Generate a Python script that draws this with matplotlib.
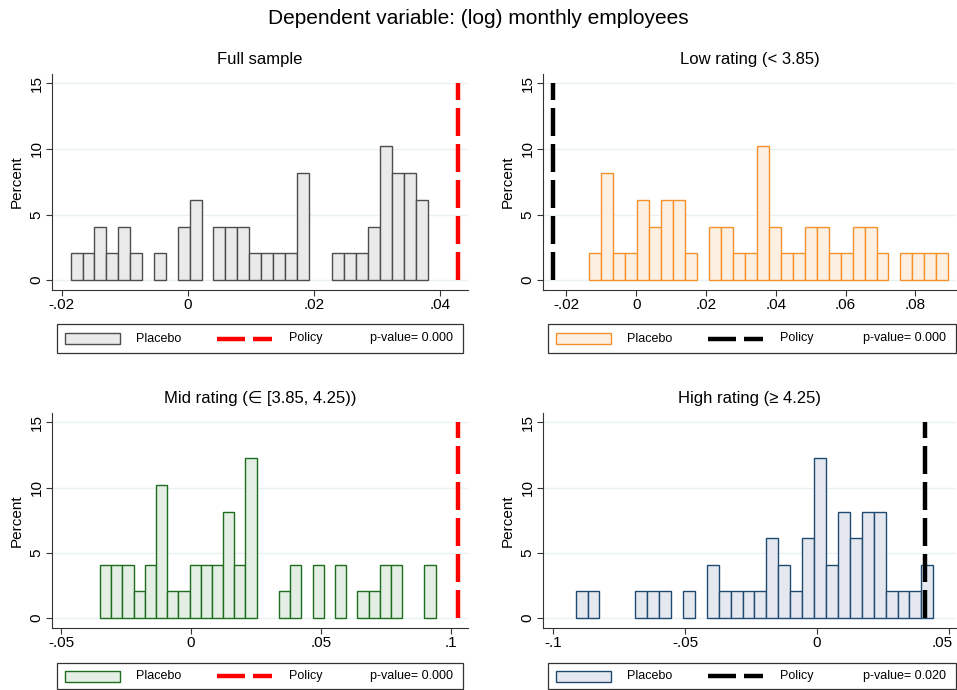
import matplotlib
matplotlib.use("Agg")
import matplotlib.pyplot as plt
import matplotlib.transforms as mtransforms
import numpy as np
from matplotlib.patches import Rectangle
from matplotlib.lines import Line2D

plt.rcParams['font.family'] = ['Liberation Sans', 'DejaVu Sans']

# ---------------- data ----------------
main_title = "Dependent variable: (log) monthly employees"
panel_titles = ["Full sample", "Low rating (< 3.85)",
                "Mid rating (\u2208 [3.85, 4.25))", "High rating (\u2265 4.25)"]

# histogram bin range (first left edge, last right edge), 30 bins each
full_range = (-0.018555, 0.03806)
low_range = (-0.013454, 0.08941)
mid_range = (-0.03503, 0.09419)
high_range = (-0.09149, 0.04423)

# bar heights (percent)
full_pct = [2.04, 2.04, 4.08, 2.04, 4.08, 2.04, 0, 2.04, 0, 4.08,
            6.12, 0, 4.08, 4.08, 4.08, 2.04, 2.04, 2.04, 2.04, 8.16,
            0, 0, 2.04, 2.04, 2.04, 4.08, 10.20, 8.16, 8.16, 6.12]
low_pct = [2.04, 8.16, 2.04, 2.04, 6.12, 4.08, 6.12, 6.12, 2.04, 0,
           4.08, 4.08, 2.04, 2.04, 10.20, 4.08, 2.04, 2.04, 4.08, 4.08,
           2.04, 2.04, 4.08, 4.08, 2.04, 0, 2.04, 2.04, 2.04, 2.04]
mid_pct = [4.08, 4.08, 4.08, 2.04, 4.08, 10.20, 2.04, 2.04, 4.08, 4.08,
           4.08, 8.16, 4.08, 12.24, 0, 0, 2.04, 4.08, 0, 4.08,
           0, 4.08, 0, 2.04, 2.04, 4.08, 4.08, 0, 0, 4.08]
high_pct = [2.04, 2.04, 0, 0, 0, 2.04, 2.04, 2.04, 0, 2.04,
            0, 4.08, 2.04, 2.04, 2.04, 2.04, 6.12, 4.08, 2.04, 6.12,
            12.24, 4.08, 8.16, 6.12, 8.16, 8.16, 2.04, 2.04, 2.04, 4.08]

policy_values = [0.04287, -0.02395, 0.10266, 0.04107]
p_values = ["0.000", "0.000", "0.000", "0.020"]

x_ticks = [[-0.02, 0, 0.02, 0.04],
           [-0.02, 0, 0.02, 0.04, 0.06, 0.08],
           [-0.05, 0, 0.05, 0.1],
           [-0.1, -0.05, 0, 0.05]]
x_limits = [(-0.02151, 0.04445), (-0.02671, 0.09161),
            (-0.05351, 0.10663), (-0.10387, 0.05283)]
y_ticks = [0, 5, 10, 15]

# ---------------- styles ----------------
fills = ["#eaeaea", "#fdf0e2", "#e5eee5", "#e5e9ef"]
edges = ["#4d4d4d", "#f5912a", "#1c6e1c", "#1f4a73"]
policy_colors = ["#ff0000", "black", "#ff0000", "black"]
grid_color = "#eaf1f2"

W, H = 957, 690
fig = plt.figure(figsize=(W / 100, H / 100), dpi=100)


def rect(l, t, r, b):
    return [l / W, 1 - b / H, (r - l) / W, (b - t) / H]


def fmt(v):
    if v == 0:
        return "0"
    s = f"{v:g}"
    return s.replace("0.", ".")


axes_rects = [rect(52, 74, 468, 290), rect(543, 74, 956, 290),
              rect(52, 413, 468, 628), rect(543, 413, 956, 628)]
ranges = [full_range, low_range, mid_range, high_range]
heights = [full_pct, low_pct, mid_pct, high_pct]

DASH = (6.3, 1.8)
LW = 3.2

for i in range(4):
    ax = fig.add_axes(axes_rects[i])
    lo, hi = ranges[i]
    h = np.array(heights[i])
    n = len(h)
    w = (hi - lo) / n
    left = lo + w * np.arange(n)
    m = h > 0
    ax.bar(left[m], h[m], width=w, align='edge', color=fills[i],
           edgecolor=edges[i], linewidth=1.0, zorder=2)
    ax.plot([policy_values[i], policy_values[i]], [0, 15],
            color=policy_colors[i], linewidth=LW, dashes=DASH,
            solid_capstyle='butt', dash_capstyle='butt', zorder=3)
    ax.set_xlim(*x_limits[i])
    ax.set_ylim(-0.76, 15.72)
    ax.set_yticks(y_ticks)
    ax.set_yticklabels([str(t) for t in y_ticks], rotation=90, va='center')
    ax.set_xticks(x_ticks[i])
    ax.set_xticklabels([fmt(t) for t in x_ticks[i]])
    ax.tick_params(axis='both', labelsize=11, length=4, width=0.8,
                   color='#333333', pad=2)
    ax.grid(axis='y', color=grid_color, linewidth=1.0, zorder=0)
    ax.set_axisbelow(True)
    for s in ['top', 'right']:
        ax.spines[s].set_visible(False)
    for s in ['left', 'bottom']:
        ax.spines[s].set_color('#333333')
        ax.spines[s].set_linewidth(0.8)
    ax.set_ylabel("Percent", fontsize=11, labelpad=4)
    ax.set_title(panel_titles[i], fontsize=12, pad=7)
    if i == 3:
        # keep the last tick label inside the figure edge
        lab = ax.get_xticklabels()[-1]
        lab.set_transform(lab.get_transform() +
                          mtransforms.ScaledTranslation(-6 / 100, 0,
                                                        fig.dpi_scale_trans))

fig.text(0.5, 1 - 18 / H, main_title, ha='center', va='center', fontsize=15)


def fx(x):
    return x / W


def fy(y):
    return 1 - y / H


def legend(x0, y0, x1, y1, fill, edge, pcolor, pval):
    fig.add_artist(Rectangle((fx(x0), fy(y1)), (x1 - x0) / W, (y1 - y0) / H,
                             transform=fig.transFigure, facecolor='white',
                             edgecolor='#333333', linewidth=0.9))
    yc = (y0 + y1) / 2
    fig.add_artist(Rectangle((fx(x0 + 8), fy(yc + 5.5)), 55 / W, 11 / H,
                             transform=fig.transFigure, facecolor=fill,
                             edgecolor=edge, linewidth=1.0))
    fig.text(fx(x0 + 79), fy(yc), "Placebo", ha='left', va='center', fontsize=9)
    fig.add_artist(Line2D([fx(x0 + 160), fx(x0 + 215)], [fy(yc), fy(yc)],
                          transform=fig.transFigure, color=pcolor,
                          linewidth=LW, dashes=DASH, dash_capstyle='butt'))
    fig.text(fx(x0 + 232), fy(yc), "Policy", ha='left', va='center', fontsize=9)
    fig.text(fx(x1 - 10), fy(yc), "p-value= " + pval, ha='right', va='center',
             fontsize=9)


legend(57, 324, 463, 353, fills[0], edges[0], policy_colors[0], p_values[0])
legend(548, 324, 956, 353, fills[1], edges[1], policy_colors[1], p_values[1])
legend(57, 663, 463, 689, fills[2], edges[2], policy_colors[2], p_values[2])
legend(548, 663, 956, 689, fills[3], edges[3], policy_colors[3], p_values[3])

fig.savefig("out.png", dpi=100)
